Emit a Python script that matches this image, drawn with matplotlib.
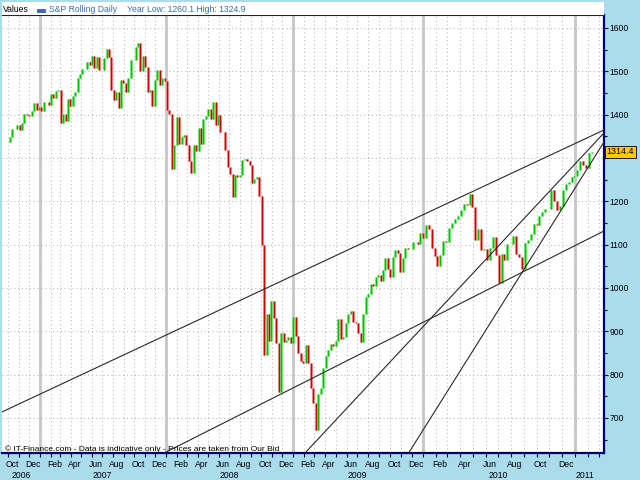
import numpy as np
import pandas as pd
import matplotlib
matplotlib.use("Agg")
import matplotlib.pyplot as plt
import matplotlib.dates as mdates
from matplotlib.patches import Rectangle
from matplotlib.transforms import ScaledTranslation, blended_transform_factory

plt.rcParams['font.family'] = ['Liberation Sans', 'DejaVu Sans']

# ---------------------------------------------------------------
# data: weekly closes (Fridays), Sep 2006 - Feb 2011
# ---------------------------------------------------------------
week_dates = pd.date_range("2006-09-29", periods=229, freq="W-FRI")
closes = [
    # 2006
    1336, 1349, 1366, 1368, 1377, 1364, 1380, 1401, 1400, 1397, 1409, 1427, 1410, 1418,
    # 2007
    1409, 1430, 1430, 1422, 1448, 1438, 1455, 1458, 1380, 1402, 1386, 1436, 1421,
    1443, 1452, 1484, 1494, 1505, 1505, 1522, 1515, 1536, 1507, 1532, 1502, 1503,
    1530, 1552, 1534, 1458, 1433, 1453, 1415, 1479, 1473, 1453, 1484, 1525, 1527,
    1557, 1565, 1500, 1536, 1509, 1453, 1458, 1420, 1481, 1504, 1468, 1484, 1478,
    # 2008
    1411, 1401, 1275, 1330, 1395, 1332, 1349, 1353, 1331, 1294, 1265, 1330, 1316,
    1370, 1333, 1390, 1398, 1413, 1389, 1430, 1376, 1400, 1361, 1360, 1318, 1278,
    1262, 1210, 1261, 1257, 1260, 1296, 1298, 1292, 1283, 1242, 1252, 1255, 1213,
    1099, 845, 940, 877, 969, 931, 873, 760, 896, 876, 880, 887, 873,
    # 2009
    932, 890, 850, 832, 826, 869, 827, 770, 735, 672, 756, 769, 816,
    843, 857, 870, 866, 877, 929, 883, 887, 919, 940, 946, 921, 918,
    896, 875, 940, 979, 987, 1010, 1005, 1026, 1029, 1016, 1042, 1068, 1044,
    1025, 1071, 1087, 1080, 1036, 1069, 1093, 1091, 1091, 1106, 1106, 1102, 1127,
    # 2010
    1115, 1145, 1136, 1092, 1074, 1050, 1075, 1109, 1105, 1139, 1150, 1160, 1167,
    1179, 1194, 1192, 1217, 1187, 1111, 1136, 1087, 1089, 1065, 1092, 1117, 1076,
    1012, 1078, 1065, 1102, 1102, 1121, 1079, 1071, 1044, 1104, 1110, 1125, 1148,
    1146, 1166, 1176, 1183, 1183, 1225, 1200, 1180, 1189, 1225, 1240, 1244, 1257, 1258,
    # 2011
    1272, 1293, 1283, 1276, 1311, 1314.4,
]
last_price = 1314.4
year_low, year_high = 1260.1, 1324.9

# trend lines: start / end (date, value)
trend_start_dates = ["2006-09-13", "2007-12-27", "2009-02-04", "2009-11-22"]
trend_start_vals = [713.8, 619, 619, 619]
trend_end_dates = ["2011-03-12", "2011-03-12", "2011-03-12", "2011-03-12"]
trend_end_vals = [1364.6, 1131.5, 1357.7, 1336.9]

# the chart's time axis is not linear: each year gets its own width
year_starts = pd.to_datetime(["2006-01-01", "2007-01-01", "2008-01-01", "2009-01-01",
                              "2010-01-01", "2011-01-01", "2012-01-01"])
year_width = [-86, 40, 166, 293, 423, 575, 727]
anchor_x = mdates.date2num(year_starts)


def fwd(x):
    return np.interp(x, anchor_x, year_width)


def inv(p):
    return np.interp(p, year_width, anchor_x)


# ---------------------------------------------------------------
# figure
# ---------------------------------------------------------------
bg = '#aadcec'
fig = plt.figure(figsize=(6.4, 4.8), dpi=100, facecolor=bg)
ax = fig.add_axes([2 / 640, 27 / 480, 602 / 640, 438 / 480])
ax.set_facecolor('white')
ax.set_xscale('function', functions=(fwd, inv))
ax.set_xlim(mdates.date2num(pd.Timestamp("2006-09-13")), mdates.date2num(pd.Timestamp("2011-03-12")))
ax.set_ylim(619, 1630)

# header band
fig.patches.append(Rectangle((2 / 640, 465 / 480), 602 / 640, 13 / 480,
                             transform=fig.transFigure, facecolor='white', edgecolor='none'))
fig.text(3 / 640, 1 - 10 / 480, "Values", fontsize=6.2, va='center', ha='left')
fig.patches.append(Rectangle((37 / 640, 1 - 12 / 480), 8 / 640, 3 / 480,
                             transform=fig.transFigure, facecolor='#3366cc', edgecolor='#1a3380', lw=0.4))
fig.text(49 / 640, 1 - 10 / 480, "S&P Rolling Daily", fontsize=6.2, va='center', ha='left', color='#3a6ea8')
fig.text(127 / 640, 1 - 10 / 480, f"Year Low: {year_low:.1f} High: {year_high:.1f}",
         fontsize=6.2, va='center', ha='left', color='#3a6ea8')

# grid & year separators
months = pd.date_range("2006-10-01", "2011-03-01", freq="MS")
ax.set_xticks(mdates.date2num(months))
ax.set_xticklabels([m.strftime('%b') if (m.month % 2 == 0 and m < pd.Timestamp("2011-01-01")) else ''
                    for m in months])
y_major = np.arange(700, 1601, 100)
ax.set_yticks(y_major)
# the 1300 label sits under the last-price tag
ax.set_yticklabels(['' if v == 1300 else str(v) for v in y_major])
ax.set_yticks(np.arange(650, 1630, 50), minor=True)
ax.grid(which='major', axis='both', ls=(0, (1, 2.5)), color='#bcbcbc', lw=0.8)
for d in year_starts[1:6]:
    ax.axvline(mdates.date2num(d), color='#cccccc', lw=2.2, zorder=0.8)

# price bars (close to close, green up / red down)
x = mdates.date2num(week_dates)
c = np.array(closes, dtype=float)
lo = np.minimum(c[1:], c[:-1])
hi = np.maximum(c[1:], c[:-1])
up = c[1:] >= c[:-1]
ax.vlines(x[1:], lo, hi, colors=np.where(up, '#8cf08c', '#f5a0a0'), lw=2.2, zorder=2)
ax.vlines(x[1:], lo, hi, colors=np.where(up, '#00c000', '#cc0000'), lw=1.0, zorder=3)

# trend lines
for sd, sv, ed, ev in zip(trend_start_dates, trend_start_vals, trend_end_dates, trend_end_vals):
    ax.plot(mdates.date2num(pd.to_datetime([sd, ed])), [sv, ev], color='#282828', lw=0.8, zorder=4)

# axes styling
ax.yaxis.tick_right()
ax.spines['left'].set_visible(False)
ax.spines['top'].set_color('#202040')
ax.spines['top'].set_linewidth(0.8)
for side in ['bottom', 'right']:
    ax.spines[side].set_color('#000066')
    ax.spines[side].set_linewidth(1.6)
ax.tick_params(axis='y', which='major', length=3, width=0.8, color='#000066', labelsize=6.2, pad=1)
ax.tick_params(axis='y', which='minor', length=2, width=0.8, color='#000066')
ax.tick_params(axis='x', which='major', length=3, width=0.8, color='#000066', labelsize=6.2, pad=2)
for lab in ax.get_xticklabels():
    lab.set_transform(lab.get_transform() + ScaledTranslation(4 / 100, 0, fig.dpi_scale_trans))

# year labels under the month labels
year_label_dates = ["2006-11-07", "2007-07-01", "2008-07-01", "2009-07-01", "2010-07-01", "2011-01-25"]
year_labels = ["2006", "2007", "2008", "2009", "2010", "2011"]
trans = blended_transform_factory(ax.transData, fig.transFigure)
for d, t in zip(year_label_dates, year_labels):
    ax.text(mdates.date2num(pd.Timestamp(d)), 1 - 475 / 480, t, transform=trans,
            ha='center', va='center', fontsize=6.2, clip_on=False)

# last price tag
tag_trans = blended_transform_factory(ax.transAxes, ax.transData)
ax.text(1.004, last_price, f"{last_price:.1f}", transform=tag_trans, ha='left', va='center',
        fontsize=6.5, clip_on=False, zorder=10,
        bbox=dict(boxstyle='square,pad=0.18', fc='#ffcc00', ec='black', lw=0.6))

# watermark
ax.text(3 / 602, 4 / 438, "\u00a9 IT-Finance.com - Data is indicative only - Prices are taken from Our Bid",
        transform=ax.transAxes, fontsize=6, ha='left', va='center', zorder=6)

fig.savefig("out.png", dpi=100, facecolor=bg)
